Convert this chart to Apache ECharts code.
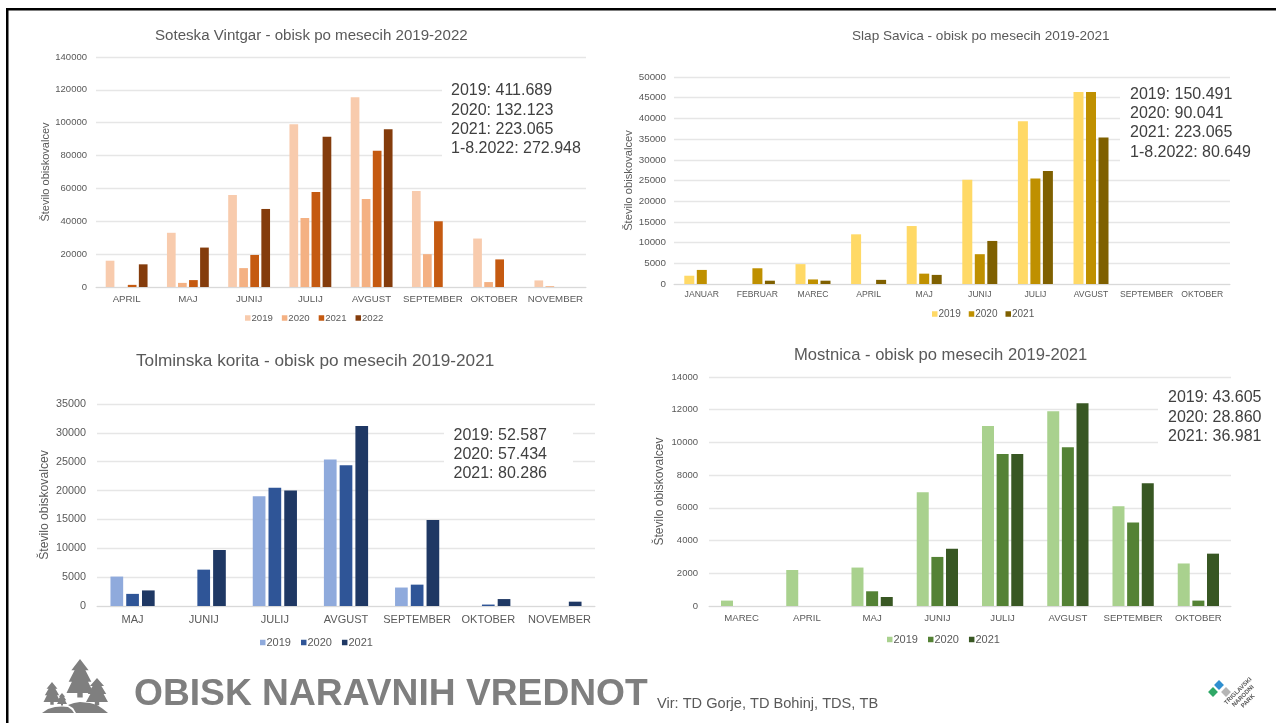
<!DOCTYPE html>
<html>
<head>
<meta charset="utf-8">
<style>
	html, body { margin: 0; padding: 0; background: #fff; }
	#chart { width: 1276px; height: 723px; }
</style>
<script src="https://cdn.jsdelivr.net/npm/echarts@6/dist/echarts.min.js"></script>
</head>
<body>
<div id="chart"></div>
<script>
// Soteska Vintgar
const vintgarMonths = ['APRIL', 'MAJ', 'JUNIJ', 'JULIJ', 'AVGUST', 'SEPTEMBER', 'OKTOBER', 'NOVEMBER']
const vintgar2019 = [16000, 33000, 56000, 99000, 115500, 58500, 29500, 4000]
const vintgar2020 = [null, 2500, 11500, 42000, 53500, 20000, 3000, 500]
const vintgar2021 = [1300, 4200, 19500, 57800, 83000, 40000, 16800, null]
const vintgar2022 = [13800, 24000, 47500, 91500, 96000, null, null, null]
const vintgarNotes = ['2019: 411.689', '2020: 132.123', '2021: 223.065', '1-8.2022: 272.948']

// Slap Savica
const savicaMonths = ['JANUAR', 'FEBRUAR', 'MAREC', 'APRIL', 'MAJ', 'JUNIJ', 'JULIJ', 'AVGUST', 'SEPTEMBER', 'OKTOBER']
const savica2019 = [2000, null, 4800, 12000, 14000, 25200, 39300, 46400, null, null]
const savica2020 = [3400, 3800, 1100, null, 2500, 7200, 25500, 46400, null, null]
const savica2021 = [null, 800, 800, 1000, 2200, 10400, 27300, 35400, null, null]
const savicaNotes = ['2019: 150.491', '2020: 90.041', '2021: 223.065', '1-8.2022: 80.649']

// Tolminska korita
const tolminMonths = ['MAJ', 'JUNIJ', 'JULIJ', 'AVGUST', 'SEPTEMBER', 'OKTOBER', 'NOVEMBER']
const tolmin2019 = [5100, null, 19000, 25400, 3200, null, null]
const tolmin2020 = [2100, 6300, 20500, 24400, 3700, 250, null]
const tolmin2021 = [2700, 9700, 20000, 31200, 14900, 1200, 750]
const tolminNotes = ['2019: 52.587', '2020: 57.434', '2021: 80.286']

// Mostnica
const mostnicaMonths = ['MAREC', 'APRIL', 'MAJ', 'JUNIJ', 'JULIJ', 'AVGUST', 'SEPTEMBER', 'OKTOBER']
const mostnica2019 = [330, 2200, 2350, 6950, 11000, 11900, 6100, 2600]
const mostnica2020 = [null, null, 900, 3000, 9300, 9700, 5100, 330]
const mostnica2021 = [null, null, 550, 3500, 9300, 12400, 7500, 3200]
const mostnicaNotes = ['2019: 43.605', '2020: 28.860', '2021: 36.981']

const font = '"Liberation Sans", Arial, sans-serif'
const textColor = '#595959'

const panels = [
	{
		title: 'Soteska Vintgar - obisk po mesecih 2019-2022', titleX: 155, titleY: 28, titleSize: 15.1,
		grid: { left: 96, top: 57, width: 490, height: 230 },
		months: vintgarMonths, max: 140000, interval: 20000,
		years: ['2019', '2020', '2021', '2022'],
		values: [vintgar2019, vintgar2020, vintgar2021, vintgar2022],
		colors: ['#F8CBAD', '#F4B183', '#C55A11', '#843C0C'],
		barWidth: 8.7, barGap: '27%', tickSize: 9.5, catSize: 9.7, catMargin: 7, tickMargin: 9,
		nameSize: 11, nameGap: 45,
		legendX: 245, legendY: 319, legendSize: 9.6, legendGap: 9,
		notes: vintgarNotes, noteX: 451, noteY: 81, mask: [442, 80, 150, 80],
	},
	{
		title: 'Slap Savica - obisk po mesecih 2019-2021', titleX: 852, titleY: 29, titleSize: 13.6,
		grid: { left: 674, top: 77, width: 556, height: 207 },
		months: savicaMonths, max: 50000, interval: 5000,
		years: ['2019', '2020', '2021'],
		values: [savica2019, savica2020, savica2021],
		colors: ['#FFD966', '#BF9000', '#7F6000'],
		barWidth: 10, barGap: '25%', tickSize: 9.8, catSize: 8.6, catMargin: 6, tickMargin: 8,
		nameSize: 11.2, nameGap: 40,
		legendX: 932, legendY: 315, legendSize: 10, legendGap: 8,
		notes: savicaNotes, noteX: 1130, noteY: 84.5, mask: [1120, 85, 130, 85],
	},
	{
		title: 'Tolminska korita - obisk po mesecih 2019-2021', titleX: 136, titleY: 353, titleSize: 17.2,
		grid: { left: 97, top: 404, width: 498, height: 202 },
		months: tolminMonths, max: 35000, interval: 5000,
		years: ['2019', '2020', '2021'],
		values: [tolmin2019, tolmin2020, tolmin2021],
		colors: ['#8FAADC', '#2F5597', '#1F3864'],
		barWidth: 12.7, barGap: '24%', tickSize: 10.8, catSize: 11, catMargin: 8, tickMargin: 11,
		nameSize: 12.2, nameGap: 46,
		legendX: 260, legendY: 643, legendSize: 11, legendGap: 10,
		notes: tolminNotes, noteX: 453.5, noteY: 425.5, mask: [444, 428, 129, 52],
	},
	{
		title: 'Mostnica - obisk po mesecih 2019-2021', titleX: 794, titleY: 347, titleSize: 16.6,
		grid: { left: 709, top: 377, width: 522, height: 229 },
		months: mostnicaMonths, max: 14000, interval: 2000,
		years: ['2019', '2020', '2021'],
		values: [mostnica2019, mostnica2020, mostnica2021],
		colors: ['#A9D18E', '#548235', '#385723'],
		barWidth: 12, barGap: '22%', tickSize: 9.5, catSize: 9.6, catMargin: 7, tickMargin: 11,
		nameSize: 12, nameGap: 43,
		legendX: 887, legendY: 640, legendSize: 11, legendGap: 10,
		notes: mostnicaNotes, noteX: 1168, noteY: 388, mask: [1158, 387, 80, 58],
	},
]

// a fir drawn in three tiers with a trunk
function tree(cx, top, w, h) {
	const t = h / 3
	return {
		type: 'polygon',
		z: 5,
		shape: {
			points: [
				[cx, top],
				[cx + w * 0.32, top + t],
				[cx + w * 0.2, top + t],
				[cx + w * 0.42, top + 2 * t],
				[cx + w * 0.3, top + 2 * t],
				[cx + w * 0.5, top + 3 * t],
				[cx + w * 0.1, top + 3 * t],
				[cx + w * 0.1, top + 3.4 * t],
				[cx - w * 0.1, top + 3.4 * t],
				[cx - w * 0.1, top + 3 * t],
				[cx - w * 0.5, top + 3 * t],
				[cx - w * 0.3, top + 2 * t],
				[cx - w * 0.42, top + 2 * t],
				[cx - w * 0.2, top + t],
				[cx - w * 0.32, top + t],
			],
		},
		style: { fill: '#7f7f7f' },
	}
}

function hill(points) {
	return { type: 'polygon', z: 5, shape: { points: points }, style: { fill: '#7f7f7f' } }
}

const graphics = [
	// slide frame
	{ type: 'rect', shape: { x: 6, y: 8, width: 2.5, height: 715 }, style: { fill: '#000' } },
	{ type: 'rect', shape: { x: 6, y: 8, width: 1270, height: 2.5 }, style: { fill: '#000' } },
	// footer
	{ type: 'text', x: 134, y: 676, style: { text: 'OBISK NARAVNIH VREDNOT', font: 'bold 37.2px ' + font, fill: '#7f7f7f' } },
	{ type: 'text', x: 657, y: 696, style: { text: 'Vir: TD Gorje, TD Bohinj, TDS, TB', font: '14.6px ' + font, fill: '#595959' } },
	// forest icon
	tree(80, 659, 27, 34),
	tree(52, 682, 17, 20),
	tree(97, 678, 22, 24),
	tree(62, 693, 10, 11),
	hill([[42, 713], [48, 709], [55, 707], [62, 706.5], [68, 707], [72, 710], [74, 713]]),
	hill([[68, 705], [74, 703], [80, 702], [90, 703], [97, 705], [103, 709], [108, 713], [76, 713], [73, 708]]),
	// park logo
	{ type: 'rect', x: 1213, y: 692, rotation: Math.PI / 4, shape: { x: -3.5, y: -3.5, width: 7, height: 7 }, style: { fill: '#2fa866' } },
	{ type: 'rect', x: 1219, y: 685, rotation: Math.PI / 4, shape: { x: -3.5, y: -3.5, width: 7, height: 7 }, style: { fill: '#2f8fd0' } },
	{ type: 'rect', x: 1226, y: 692, rotation: Math.PI / 4, shape: { x: -3.5, y: -3.5, width: 7, height: 7 }, style: { fill: '#b5b5b5' } },
	{
		type: 'text', x: 1243, y: 696, rotation: Math.PI / 4,
		style: { text: 'TRIGLAVSKI\nNARODNI\nPARK', font: 'bold 6px ' + font, fill: '#555', lineHeight: 7, align: 'center', verticalAlign: 'middle' },
	},
]

const titles = []
const legends = []
const grids = []
const xAxes = []
const yAxes = []
const series = []

panels.forEach((p, i) => {
	titles.push({
		text: p.title, left: p.titleX, top: p.titleY, padding: 0,
		textStyle: { fontFamily: font, fontSize: p.titleSize, fontWeight: 'normal', color: textColor },
	})
	legends.push({
		left: p.legendX, top: p.legendY - 6, padding: 0,
		itemWidth: 5.5, itemHeight: 5.5, itemGap: p.legendGap, icon: 'rect', selectedMode: false,
		textStyle: { fontFamily: font, fontSize: p.legendSize, color: textColor, padding: [0, 0, 0, -4] },
		data: p.years.map((y, k) => ({ name: y, itemStyle: { color: p.colors[k] } })),
	})
	grids.push(p.grid)
	xAxes.push({
		type: 'category', gridIndex: i, data: p.months,
		axisTick: { show: false },
		axisLine: { lineStyle: { color: '#d9d9d9', width: 1 } },
		axisLabel: { interval: 0, hideOverlap: false, margin: p.catMargin, fontFamily: font, fontSize: p.catSize, color: textColor },
	})
	yAxes.push({
		type: 'value', gridIndex: i, min: 0, max: p.max, interval: p.interval,
		name: 'Število obiskovalcev', nameLocation: 'middle', nameRotate: 90, nameGap: p.nameGap,
		nameTextStyle: { fontFamily: font, fontSize: p.nameSize, color: textColor },
		axisLine: { show: false },
		axisTick: { show: false },
		axisLabel: { margin: p.tickMargin, fontFamily: font, fontSize: p.tickSize, color: textColor, formatter: v => String(v) },
		splitLine: { show: true, lineStyle: { color: '#e6e6e6', width: 1.4 } },
	})
	p.values.forEach((vals, k) => {
		series.push({
			name: p.years[k], type: 'bar', xAxisIndex: i, yAxisIndex: i, data: vals,
			barWidth: p.barWidth, barGap: p.barGap,
			itemStyle: { color: p.colors[k] },
		})
	})
	// the text boxes on the slide blank out the gridlines behind them
	graphics.push({
		type: 'rect', z: 1,
		shape: { x: p.mask[0], y: p.mask[1], width: p.mask[2], height: p.mask[3] },
		style: { fill: '#fff' },
	})
	graphics.push({
		type: 'text', z: 6, x: p.noteX, y: p.noteY,
		style: { text: p.notes.join('\n'), font: '16px ' + font, fill: '#404040', lineHeight: 19.4 },
	})
})

const chart = echarts.init(document.getElementById('chart'))
chart.setOption({
	animation: false,
	backgroundColor: '#fff',
	title: titles,
	legend: legends,
	grid: grids,
	xAxis: xAxes,
	yAxis: yAxes,
	series: series,
	graphic: graphics,
})
</script>
</body>
</html>
